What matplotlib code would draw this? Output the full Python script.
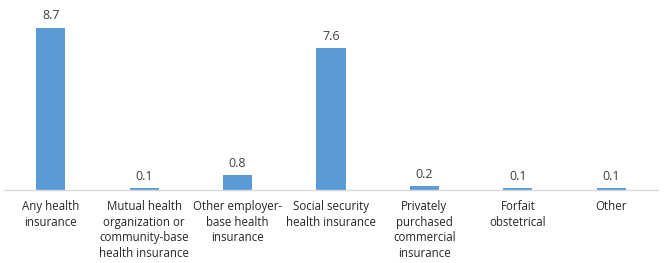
import matplotlib
matplotlib.use("Agg")
import matplotlib.pyplot as plt
import numpy as np

categories = ["Any health\ninsurance",
              "Mutual health\norganization or\ncommunity-base\nhealth insurance",
              "Other employer-\nbase health\ninsurance",
              "Social security\nhealth insurance",
              "Privately\npurchased\ncommercial\ninsurance",
              "Forfait\nobstetrical",
              "Other"]
values = [8.7, 0.1, 0.8, 7.6, 0.2, 0.1, 0.1]

plt.rcParams['font.family'] = ['Open Sans', 'DejaVu Sans']

fig = plt.figure(figsize=(6.69, 2.63), dpi=100)
ax = fig.add_axes([4 / 669, 73 / 263, 654 / 669, 190 / 263])

x = np.arange(len(categories))
bars = ax.bar(x, values, width=0.313, color="#5b9bd5", zorder=2)

# value labels above bars
for rect, v in zip(bars, values):
    ax.annotate(f"{v:.1f}", (rect.get_x() + rect.get_width() / 2, rect.get_height()),
                xytext=(0, 4), textcoords="offset points", ha="center", va="bottom",
                fontsize=9, color="#404040")

ax.set_xlim(-0.5, len(categories) - 0.5)
ax.set_ylim(0, 10.2)
ax.set_xticks(x)
ax.set_xticklabels(categories, fontsize=8.3, color="#262626", linespacing=1.28)
ax.tick_params(axis="x", length=0, pad=7)
ax.set_yticks([])

for s in ["top", "right", "left"]:
    ax.spines[s].set_visible(False)
ax.spines["bottom"].set_color("#d9d9d9")
ax.spines["bottom"].set_linewidth(1)

fig.savefig("out.png", dpi=100)
